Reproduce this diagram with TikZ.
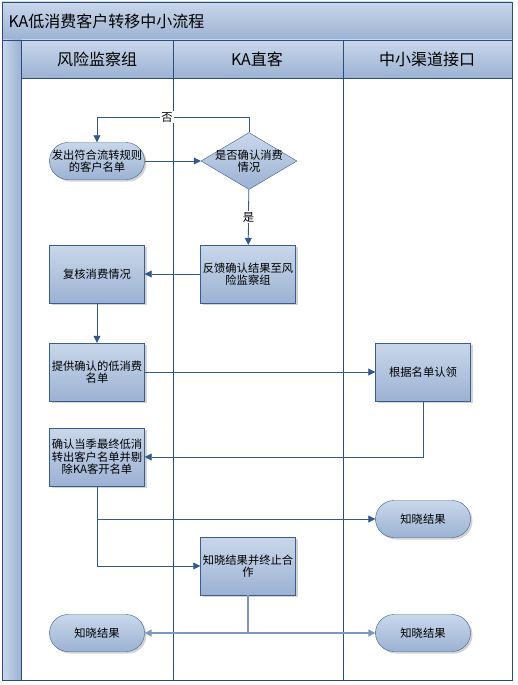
\documentclass[tikz,border=0pt]{standalone}
\usepackage{fontspec}
\setmainfont{Noto Sans CJK SC}
\usetikzlibrary{shapes.geometric,shadows,arrows.meta}
\definecolor{rim}{HTML}{3B5C8E}
\definecolor{topc}{HTML}{C9D7EA}
\definecolor{botc}{HTML}{9CB2D3}
\definecolor{frame}{HTML}{2B4C80}
\definecolor{wire}{HTML}{34588C}
\definecolor{wirelight}{HTML}{7D98C0}
\tikzset{
  shade/.style={top color=topc, bottom color=botc},
  box/.style={draw=rim, shade, minimum width=95pt, minimum height=58pt, inner sep=1pt,
    align=center, font=\fontsize{11.3}{12.5}\selectfont,
    drop shadow={shadow xshift=2pt, shadow yshift=-2pt, opacity=0.35}},
  term/.style={box, rounded corners=18.5pt, minimum height=37pt},
  ask/.style={draw=rim, shade, diamond, aspect=1.68, inner sep=-4pt, minimum width=96pt,
    minimum height=57pt, align=center, font=\fontsize{11.3}{12.5}\selectfont},
  arr/.style={draw=wire, thick, -{Triangle[length=7pt,width=7pt]}},
  tag/.style={fill=white, inner sep=1pt, font=\fontsize{11.3}{12.5}\selectfont},
  lane/.style={draw=frame, line width=0.9pt},
}
\begin{document}
\begin{tikzpicture}[x=1pt,y=-1pt]
\useasboundingbox (0,0) rectangle (517,685);
% swimlane frame
\path[shade] (2,2) rectangle (512,40);
\path[shade] (21,40) rectangle (512,78);
\path[left color=topc, right color=botc] (2,40) rectangle (21,680);
\node[anchor=west, font=\fontsize{16}{18}\selectfont] (title) at (5,21) {KA低消费客户转移中小流程};
\node[font=\fontsize{16}{18}\selectfont] (h1) at (97,59) {风险监察组};
\node[font=\fontsize{16}{18}\selectfont] (h2) at (257,59) {KA直客};
\node[font=\fontsize{16}{18}\selectfont] (h3) at (427,59) {中小渠道接口};
\path[lane] (2,40) -- (512,40);
\path[lane] (21,78) -- (512,78);
\path[lane] (21,40) -- (21,680);
\path[lane] (173,40) -- (173,680);
\path[lane] (343,40) -- (343,680);
\path[lane] (2,2) rectangle (512,680);
% steps
\node[term] (src) at (97,161) {发出符合流转规则\\的客户名单};
\node[ask] (check) at (249,161) {是否确认消费\\情况};
\node[box] (feed) at (248,274) {反馈确认结果至风\\险监察组};
\node[box] (review) at (97,274) {复核消费情况};
\node[box] (offer) at (97,372) {提供确认的低消费\\名单};
\node[box] (claim) at (423,372) {根据名单认领};
\node[box] (final) at (97,457) {确认当季最终低消\\转出客户名单并剔\\除KA客开名单};
\node[term] (know1) at (423,519) {知晓结果};
\node[box] (stop) at (248,566) {知晓结果并终止合\\作};
\node[term] (know2) at (97,633) {知晓结果};
\node[term] (know3) at (423,633) {知晓结果};
% links
\path[arr] (src) -- (check);
\path[arr] (check.north) -- ++(0,-15) -| node[tag, pos=0.27] {否} (src.north);
\path[arr] (check) -- node[tag] {是} (feed);
\path[arr] (feed) -- (review);
\path[arr] (review) -- (offer);
\path[arr] (offer) -- (claim);
\path[arr] (claim) |- (final);
\path[arr] (final) |- (know1);
\path[arr] (final) |- (stop);
\path[arr, draw=wirelight, line width=1.1pt] (stop) |- (know2);
\path[arr, draw=wirelight, line width=1.1pt] (stop) |- (know3);
\end{tikzpicture}
\end{document}
